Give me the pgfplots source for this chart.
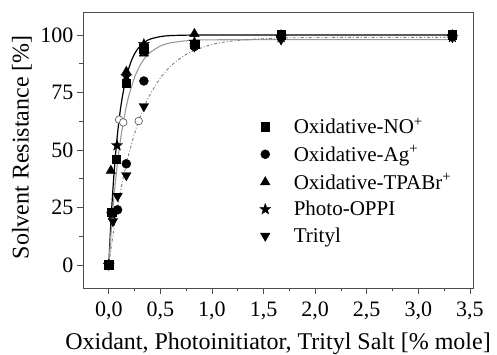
\documentclass[border=0pt]{standalone}
\usepackage{pgfplots}
\pgfplotsset{compat=1.18}
\usepackage{fontspec}
\setmainfont{Liberation Serif}
\pgfdeclareplotmark{fstar}{%
  \pgfpathmoveto{\pgfpointpolar{90}{\pgfplotmarksize}}%
  \pgfpathlineto{\pgfpointpolar{126}{0.42\pgfplotmarksize}}%
  \pgfpathlineto{\pgfpointpolar{162}{\pgfplotmarksize}}%
  \pgfpathlineto{\pgfpointpolar{198}{0.42\pgfplotmarksize}}%
  \pgfpathlineto{\pgfpointpolar{234}{\pgfplotmarksize}}%
  \pgfpathlineto{\pgfpointpolar{270}{0.42\pgfplotmarksize}}%
  \pgfpathlineto{\pgfpointpolar{306}{\pgfplotmarksize}}%
  \pgfpathlineto{\pgfpointpolar{342}{0.42\pgfplotmarksize}}%
  \pgfpathlineto{\pgfpointpolar{18}{\pgfplotmarksize}}%
  \pgfpathlineto{\pgfpointpolar{54}{0.42\pgfplotmarksize}}%
  \pgfpathclose
  \pgfusepathqfillstroke}
\begin{document}
\begin{tikzpicture}
\begin{axis}[
  at={(0pt,0pt)}, anchor=south west,
  scale only axis,
  width=390pt, height=276pt,
  xmin=-0.25, xmax=3.53,
  ymin=-10, ymax=110,
  xtick={0,0.5,...,3.5},
  ytick={0,25,50,75,100},
  minor x tick num=1,
  minor y tick num=1,
  xtick pos=bottom, ytick pos=left,
  tick align=outside,
  major tick length=6pt, minor tick length=3.5pt,
  axis line style={draw=black!70, line width=0.9pt},
  every tick/.style={draw=black!70, line width=0.8pt},
  /pgf/number format/assume math mode=true,
  x tick label style={yshift=-4pt, /pgf/number format/.cd, fixed, fixed zerofill, precision=1, use comma},
  tick label style={font=\fontsize{22}{26}\selectfont},
  label style={font=\fontsize{24}{28}\selectfont},
  xlabel={Oxidant, Photoinitiator, Trityl Salt [\% mole]},
  ylabel={Solvent Resistance [\%]},
  xlabel style={at={(rel axis cs:0.5,0)}, anchor=base, yshift=-62pt},
  ylabel style={at={(rel axis cs:0,0.51)}, anchor=center, yshift=61pt},
  legend style={draw=none, fill=none, at={(0.445,0.632)}, anchor=north west,
    font=\fontsize{21}{25}\selectfont, row sep=6.5pt,
    /tikz/every odd column/.append style={column sep=21pt}},
  legend cell align=left,
]
% fitted curves
\addplot[forget plot, black, line width=1.2pt, smooth] coordinates {
(0,0) (0.02,18.1) (0.04,33.0) (0.06,45.1) (0.08,55.1) (0.10,63.2) (0.12,69.9) (0.15,77.7) (0.18,83.5) (0.22,88.9) (0.26,92.6) (0.30,95.0) (0.35,97.0) (0.40,98.2) (0.50,99.3) (0.60,99.75) (0.80,99.97) (1.0,100) (2.0,100) (3.33,100)};
\addplot[forget plot, black!40, line width=1.1pt, smooth] coordinates {
(0,0) (0.02,13.0) (0.04,24.4) (0.06,34.2) (0.08,42.7) (0.10,50.0) (0.12,56.4) (0.14,61.9) (0.17,68.9) (0.20,74.5) (0.25,81.6) (0.30,86.5) (0.35,90.0) (0.40,92.4) (0.50,95.2) (0.60,96.6) (0.80,97.7) (1.0,97.9) (2.0,98) (3.33,98)};
\addplot[forget plot, black!50, line width=0.9pt, dash dot, smooth] coordinates {
(0,0) (0.02,6.6) (0.05,15.7) (0.10,28.9) (0.15,40.0) (0.20,49.3) (0.25,57.2) (0.29,62.6) (0.35,69.4) (0.40,74.1) (0.50,81.3) (0.60,86.5) (0.70,90.1) (0.80,92.7) (1.00,95.9) (1.20,97.4) (1.50,98.4) (2.00,98.9) (3.33,99)};
% open circles (tau points)
\addplot[forget plot, only marks, mark=*, mark size=3.8pt, mark options={fill=white, draw=black!70, line width=0.6pt}] coordinates {(0.10,63.2) (0.14,62) (0.29,62.6)};
% data
\addplot[only marks, mark=square*, mark size=4.3pt, black] coordinates {
(0,0) (0.03,23) (0.07,46) (0.17,79) (0.34,94) (0.83,96) (1.67,100) (3.33,100)};
\addlegendentry{Oxidative-NO\textsuperscript{+}}
\addplot[only marks, mark=*, mark size=4.5pt, black] coordinates {
(0,0) (0.085,24) (0.17,44) (0.34,80) (0.83,95) (1.67,99) (3.33,100)};
\addlegendentry{Oxidative-Ag\textsuperscript{+}}
\addplot[only marks, mark=triangle*, mark size=5.5pt, black] coordinates {
(0,0) (0.02,41) (0.17,84) (0.34,92) (0.83,100.5) (1.67,100) (3.33,100)};
\addlegendentry{Oxidative-TPABr\textsuperscript{+}}
\addplot[only marks, mark=fstar, mark size=5.8pt, black, mark options={fill=black, line width=0.3pt}] coordinates {
(0,0) (0.03,22) (0.08,52) (0.17,82) (0.34,96) (0.83,97) (1.67,99) (3.33,99)};
\addlegendentry{Photo-OPPI}
\addplot[only marks, mark=triangle*, mark size=5.5pt, black, mark options={rotate=180}] coordinates {
(0,0) (0.04,19) (0.085,30) (0.17,39) (0.34,69) (0.83,95) (1.67,98) (3.33,99)};
\addlegendentry{Trityl}
\end{axis}
\pgfresetboundingbox
\path[use as bounding box] (-83pt,-67pt) rectangle (414pt,288pt);
\end{tikzpicture}
\end{document}
